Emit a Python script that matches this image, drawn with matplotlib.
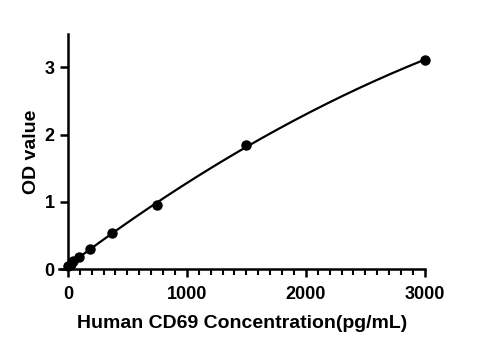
import matplotlib.pyplot as plt
import numpy as np
from matplotlib.ticker import MultipleLocator

plt.rcParams['font.family'] = ['Liberation Sans', 'DejaVu Sans']
plt.rcParams['font.weight'] = 'bold'

# standard curve data
conc = [0, 23.4, 46.9, 93.75, 187.5, 375, 750, 1500, 3000]
od = [0.05, 0.08, 0.12, 0.18, 0.30, 0.53, 0.96, 1.84, 3.11]
x_ticks = [0, 1000, 2000, 3000]
y_ticks = [0, 1, 2, 3]

fig = plt.figure(figsize=(4.79, 3.5), dpi=100)
ax = fig.add_axes([0.123, 0.231, 0.764, 0.673])

# smooth fitted line through the points
coef = np.polyfit(conc, od, 2)
xs = np.linspace(0, 3000, 200)
ax.plot(xs, np.polyval(coef, xs), color="black", lw=1.6, zorder=2)
ax.plot(conc, od, "o", color="black", ms=6.5, zorder=3, clip_on=False)

ax.set_xlim(-75, 3000)
ax.set_ylim(0, 3.5)
ax.spines['left'].set_position(('data', 0))
ax.spines['top'].set_visible(False)
ax.spines['right'].set_visible(False)
for s in ['left', 'bottom']:
    ax.spines[s].set_linewidth(1.8)

ax.set_xticks(x_ticks)
ax.set_yticks(y_ticks)
ax.xaxis.set_minor_locator(MultipleLocator(100))
ax.tick_params(which='major', width=1.8, length=6, labelsize=13)
ax.tick_params(axis='x', which='major', pad=6)
ax.tick_params(which='minor', width=1.5, length=4)

ax.set_xlabel("Human CD69 Concentration(pg/mL)", fontsize=14, fontweight='bold', labelpad=9)
ax.set_ylabel("OD value", fontsize=14, fontweight='bold')
ax.yaxis.set_label_coords(-0.052, 0.5)

plt.savefig("out.png", dpi=100)
